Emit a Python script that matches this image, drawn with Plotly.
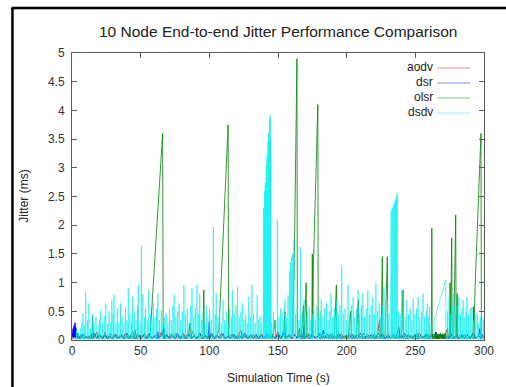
import plotly.graph_objects as go

title_text = "10 Node End-to-end Jitter Performance Comparison"
x_label = "Simulation Time (s)"
y_label = "Jitter (ms)"
series_names = ["aodv", "dsr", "olsr", "dsdv"]
series_colors = ["#ff0000", "#0000ff", "#008000", "#00eeee"]
series_widths = [1, 1, 0.8, 0.6]
legend_colors = ["#f08888", "#8888f8", "#80bb80", "#88f8f8"]
x_ticks = [0, 50, 100, 150, 200, 250, 300]
y_ticks = [0, 0.5, 1, 1.5, 2, 2.5, 3, 3.5, 4, 4.5, 5]

# (time s, jitter ms) samples
aodv_samples = [(0.5,0.02),(1.5,0.08),(2.5,0.03),(4,0.12),(5,0.02),(7,0.1),(8,0.03),(10,0.06),(12,0.02),(14,0.09),(16,0.03),(18,0.14),(19,0.02),(21,0.08),(23,0.03),(24,0.14),(25,0.02),(27,0.07),(29,0.03),(31,0.1),(33,0.02),(35,0.08),(37,0.03),(39,0.12),(41,0.02),(43,0.09),(45,0.03),(46,0.17),(47,0.02),(49,0.08),(51,0.03),(53,0.11),(55,0.02),(57,0.07),(59,0.03),(61,0.1),(63,0.02),(65,0.13),(67,0.03),(69,0.08),(71,0.02),(73,0.1),(75,0.03),(77,0.07),(79,0.02),(81,0.12),(83,0.03),(85,0.09),(86,0.29),(87,0.02),(89,0.08),(91,0.03),(93,0.11),(95,0.02),(97,0.07),(99,0.03),(101,0.1),(103,0.02),(105,0.08),(107,0.03),(109,0.12),(111,0.02),(113,0.07),(115,0.03),(117,0.1),(119,0.02),(121,0.09),(123,0.17),(124,0.03),(126,0.08),(128,0.02),(130,0.1),(132,0.03),(134,0.07),(136,0.02),(138,0.11),(140,0.03),(142,0.08),(144,0.02),(146,0.1),(148,0.03),(150,0.14),(152,0.02),(154,0.08),(156,0.03),(158,0.1),(160,0.02),(162,0.09),(164,0.03),(165.6,0.2),(166.5,0.02),(168,0.08),(170,0.03),(172,0.11),(174,0.02),(176,0.07),(178,0.03),(180,0.12),(182,0.02),(184,0.08),(186,0.03),(188,0.1),(190,0.02),(192,0.07),(194,0.03),(196,0.11),(198,0.02),(200,0.08),(202,0.03),(204,0.1),(206,0.02),(208,0.09),(210,0.03),(212,0.12),(214,0.02),(216,0.08),(218,0.03),(220,0.1),(222,0.02),(224,0.35),(224.5,0.03),(226,0.08),(228,0.02),(230,0.11),(232,0.03),(234,0.07),(236,0.02),(238,0.23),(239,0.03),(241,0.08),(243,0.02),(245,0.1),(247,0.03),(249,0.07),(251,0.02),(253,0.12),(255,0.03),(257,0.08),(259,0.02),(261,0.1),(263,0.03),(265,0.07),(267,0.02),(269,0.09),(271,0.03),(273.4,0.2),(274,0.02),(276,0.08),(278,0.03),(280,0.11),(282,0.02),(284,0.07),(286,0.03),(288,0.1),(290,0.02),(292,0.12),(294,0.03),(296,0.08),(298,0.02),(300,0.05)]

dsr_samples = [(0.3,0.05),(0.8,0.2),(1.1,0.03),(1.5,0.25),(1.8,0.04),(2.2,0.3),(2.5,0.05),(2.8,0.22),(3.2,0.03),(4.5,0.08),(6,0.02),(8,0.1),(10,0.03),(12,0.07),(14,0.02),(16,0.12),(18,0.03),(20,0.08),(22,0.02),(24,0.1),(26,0.03),(28,0.06),(30,0.02),(32,0.1),(34,0.03),(36,0.08),(38,0.02),(40,0.12),(42,0.03),(44,0.07),(46,0.02),(48,0.1),(50,0.03),(52,0.08),(54,0.02),(56,0.11),(58,0.03),(60,0.07),(62,0.02),(62.5,0.14),(63,0.03),(65,0.08),(67,0.2),(67.5,0.02),(69,0.1),(71,0.03),(73,0.07),(75,0.02),(77,0.11),(79,0.03),(81,0.08),(83,0.02),(85,0.1),(87,0.03),(89,0.07),(91,0.02),(93,0.12),(95,0.03),(97,0.08),(99,0.02),(100,0.31),(100.5,0.03),(102,0.1),(104,0.02),(106,0.08),(108,0.03),(110,0.11),(112,0.02),(114,0.07),(116,0.03),(118,0.1),(120,0.02),(122,0.08),(124,0.03),(126,0.12),(128,0.02),(130,0.07),(132,0.03),(134,0.1),(136,0.02),(138,0.08),(140,0.03),(142,0.11),(144,0.02),(146,0.07),(148,0.03),(150,0.1),(152,0.02),(154,0.14),(156,0.03),(158,0.08),(160,0.02),(162,0.1),(164,0.03),(166,0.07),(168,0.02),(169,0.24),(169.5,0.03),(171,0.08),(173,0.02),(175,0.1),(177,0.03),(179,0.07),(181,0.02),(183,0.17),(184,0.03),(186,0.1),(188,0.02),(190,0.08),(192,0.03),(194,0.11),(196,0.02),(198,0.07),(200,0.03),(202,0.1),(204,0.02),(206,0.08),(208,0.03),(210,0.12),(212,0.02),(214,0.07),(216,0.03),(218,0.1),(220,0.02),(222,0.08),(224,0.03),(226,0.11),(228,0.02),(230,0.07),(232,0.03),(234,0.1),(236,0.02),(238,0.08),(240,0.03),(242,0.12),(244,0.02),(246,0.07),(248,0.03),(250,0.1),(252,0.02),(254,0.08),(256,0.03),(258,0.11),(260,0.02),(262,0.07),(264,0.03),(265,0.14),(266,0.02),(268,0.1),(270,0.03),(272,0.08),(274,0.02),(276,0.11),(278,0.03),(280,0.07),(282,0.02),(284,0.1),(286,0.03),(288,0.08),(290,0.02),(292,0.12),(294,0.03),(296,0.07),(297,0.2),(297.5,0.02),(299,0.08),(300,0.03)]

olsr_samples = [(0.5,0.02),(2,0.05),(4,0.03),(6,0.08),(8,0.02),(10,0.06),(12,0.03),(14,0.1),(14.5,0.02),(15,0.43),(15.4,0.03),(16,0.08),(18,0.04),(20,0.1),(22,0.03),(24,0.07),(26,0.02),(28,0.12),(30,0.04),(32,0.08),(34,0.03),(36,0.1),(38,0.02),(40,0.06),(42,0.03),(44,0.15),(46,0.04),(48,0.08),(50,0.03),(52,0.1),(54,0.02),(55.5,0.07),(57,0.12),(66,3.6),(66.4,0.04),(68,0.08),(70,0.03),(72,0.1),(74,0.04),(76,0.12),(78,0.03),(80,0.07),(82,0.02),(84,0.1),(86,0.04),(88,0.15),(90,0.03),(92,0.08),(94,0.02),(95.5,0.1),(96,0.87),(96.4,0.03),(98,0.07),(100,0.02),(102,0.12),(104,0.04),(105.5,0.08),(107,0.17),(113.7,3.75),(114,0.04),(116,0.1),(118,0.03),(120,0.08),(122,0.02),(124,0.12),(126,0.04),(128,0.07),(130,0.03),(132,0.1),(134,0.02),(136,0.08),(138,0.03),(140,0.06),(142,0.02),(144,0.1),(146,0.03),(148,0.35),(148.4,0.02),(150,0.08),(152,0.03),(154,0.1),(155,0.5),(155.4,0.02),(157,0.07),(159,0.03),(160.5,0.12),(161.8,1.25),(163.8,4.9),(164.1,0.05),(165.5,0.1),(167,0.03),(168.5,0.6),(169,0.02),(170.5,1.0),(171,0.03),(172.5,0.1),(174.6,0.05),(175,1.5),(175.3,0.05),(175.8,1.3),(179,4.1),(179.3,0.05),(181,0.1),(183,0.03),(185,0.08),(187,0.02),(189,0.12),(191,0.03),(192.5,0.96),(193,0.02),(195,0.1),(197,0.03),(199,0.08),(201,0.02),(203,0.5),(203.4,0.03),(205,0.1),(207,0.02),(208.5,0.7),(209,0.03),(211,0.08),(213,0.02),(215,0.1),(217,0.03),(219,0.07),(221,0.02),(223,0.12),(225,0.03),(226,1.45),(226.4,0.02),(228,0.1),(229.6,1.45),(230,0.03),(232,0.08),(234,0.02),(236,0.1),(238,0.03),(240,0.07),(241,0.87),(241.4,0.02),(243,0.1),(245,0.03),(247,0.08),(249,0.02),(251,0.12),(253,0.03),(255,0.07),(257,0.02),(259,0.1),(260.5,0.03),(261.4,0.08),(261.8,0.1),(262,1.95),(262.3,0.02),(262.7,0.1),(263.1,0.02),(263.5,0.11),(263.9,0.02),(264.3,0.1),(264.7,0.02),(265.1,0.12),(265.5,0.02),(265.9,0.1),(266.3,0.02),(266.7,0.11),(267.1,0.02),(267.5,0.1),(267.9,0.02),(268.3,0.12),(268.7,0.02),(269.1,0.1),(269.5,0.02),(269.9,0.11),(270.3,0.02),(270.7,0.1),(271.1,0.02),(271.5,0.12),(271.9,0.02),(272.3,0.1),(272.7,0.02),(275,0.1),(275.3,1.0),(275.6,0.03),(276.5,1.78),(276.8,0.02),(278,0.1),(279.4,2.18),(279.7,0.03),(280.5,0.81),(280.8,0.02),(282,0.08),(284,0.03),(286,0.1),(288,0.02),(290,0.07),(292,0.03),(292.4,0.58),(292.7,0.02),(293.5,0.92),(297.8,3.6),(298.1,0.05),(299,0.1),(300,0.04)]

dsdv_samples = [
    (0.5,0.03),(3.25,0.05),(3.3,0.17),(3.35,0.01),(4.55,0.05),(4.6,0.12),(4.65,0.01),(5.95,0.05),(6.0,0.2),(6.05,0.01),(7.15,0.05),(7.2,0.3),(7.25,0.01),(7.95,0.05),(8.0,0.47),(8.05,0.01),(8.95,0.05),(9.0,0.25),(9.05,0.01),
    (9.95,0.05),(10.0,0.84),(10.05,0.01),(11.15,0.05),(11.2,0.35),(11.25,0.01),(12.25,0.05),(12.3,0.64),(12.35,0.01),(13.45,0.05),(13.5,0.2),(13.55,0.01),(14.75,0.05),(14.8,0.45),(14.85,0.01),(15.95,0.05),(16.0,0.3),(16.05,0.01),
    (17.45,0.05),(17.5,0.4),(17.55,0.01),(18.95,0.05),(19.0,0.25),(19.05,0.01),(19.95,0.05),(20.0,0.36),(20.05,0.01),(20.95,0.05),(21.0,0.52),(21.05,0.01),(22.25,0.05),(22.3,0.3),(22.35,0.01),(23.45,0.05),(23.5,0.42),(23.55,0.01),
    (24.55,0.05),(24.6,0.64),(24.65,0.01),(25.95,0.05),(26.0,0.28),(26.05,0.01),(26.95,0.05),(27.0,0.5),(27.05,0.01),(28.15,0.05),(28.2,0.3),(28.25,0.01),(28.95,0.05),(29.0,0.7),(29.05,0.01),(29.95,0.05),(30.0,0.45),(30.05,0.01),
    (30.55,0.05),(30.6,0.79),(30.65,0.01),(31.95,0.05),(32.0,0.3),(32.05,0.01),(32.95,0.05),(33.0,0.55),(33.05,0.01),(34.15,0.05),(34.2,0.3),(34.25,0.01),(35.25,0.05),(35.3,0.64),(35.35,0.01),(36.45,0.05),(36.5,0.4),(36.55,0.01),
    (37.65,0.05),(37.7,0.3),(37.75,0.01),(38.85,0.05),(38.9,0.58),(38.95,0.01),(39.95,0.05),(40.0,0.35),(40.05,0.01),(40.95,0.05),(41.0,0.9),(41.05,0.01),(42.15,0.05),(42.2,0.45),(42.25,0.01),(43.25,0.05),(43.3,0.3),(43.35,0.01),
    (44.15,0.05),(44.2,0.75),(44.25,0.01),(45.35,0.05),(45.4,0.5),(45.45,0.01),(46.55,0.05),(46.6,0.35),(46.65,0.01),(47.65,0.05),(47.7,0.6),(47.75,0.01),(48.25,0.05),(48.3,0.96),(48.35,0.01),(49.45,0.05),(49.5,0.3),(49.55,0.01),
    (50.45,0.05),(50.5,1.64),(50.55,0.01),(51.55,0.05),(51.6,0.8),(51.65,0.01),(52.75,0.05),(52.8,0.4),(52.85,0.01),(53.45,0.05),(53.5,0.58),(53.55,0.01),(54.75,0.05),(54.8,0.35),(54.85,0.01),(55.85,0.05),(55.9,0.87),(55.95,0.01),
    (57.15,0.05),(57.2,0.45),(57.25,0.01),(58.25,0.05),(58.3,0.3),(58.35,0.01),(59.15,0.05),(59.2,0.64),(59.25,0.01),(60.35,0.05),(60.4,0.4),(60.45,0.01),(61.55,0.05),(61.6,0.55),(61.65,0.01),(62.45,0.05),(62.5,0.81),(62.55,0.01),
    (63.65,0.05),(63.7,0.35),(63.75,0.01),(64.95,0.05),(65.0,0.52),(65.05,0.01),(66.15,0.05),(66.2,0.3),(66.25,0.01),(67.45,0.05),(67.5,0.4),(67.55,0.01),(68.45,0.05),(68.5,0.47),(68.55,0.01),(69.75,0.05),(69.8,0.3),(69.85,0.01),
    (70.95,0.05),(71.0,0.55),(71.05,0.01),(72.25,0.05),(72.3,0.35),(72.35,0.01),(73.45,0.05),(73.5,0.6),(73.55,0.01),(74.35,0.05),(74.4,0.79),(74.45,0.01),(75.55,0.05),(75.6,0.4),(75.65,0.01),(76.75,0.05),(76.8,0.5),(76.85,0.01),
    (77.95,0.05),(78.0,0.64),(78.05,0.01),(79.15,0.05),(79.2,0.35),(79.25,0.01),(80.35,0.05),(80.4,0.5),(80.45,0.01),(81.45,0.05),(81.5,0.96),(81.55,0.01),(82.65,0.05),(82.7,0.45),(82.75,0.01),(83.95,0.05),(84.0,0.55),(84.05,0.01),
    (85.15,0.05),(85.2,0.3),(85.25,0.01),(86.35,0.05),(86.4,0.6),(86.45,0.01),(87.35,0.05),(87.4,0.9),(87.45,0.01),(88.55,0.05),(88.6,0.4),(88.65,0.01),(89.75,0.05),(89.8,0.55),(89.85,0.01),(90.95,0.05),(91.0,0.96),(91.05,0.01),
    (92.15,0.05),(92.2,0.45),(92.25,0.01),(92.95,0.05),(93.0,0.81),(93.05,0.01),(94.15,0.05),(94.2,0.35),(94.25,0.01),(95.35,0.05),(95.4,0.5),(95.45,0.01),(96.55,0.05),(96.6,0.3),(96.65,0.01),(97.75,0.05),(97.8,0.6),(97.85,0.01),
    (98.95,0.05),(99.0,0.4),(99.05,0.01),(100.15,0.05),(100.2,0.55),(100.25,0.01),(101.35,0.05),(101.4,0.35),(101.45,0.01),(102.45,0.05),(102.5,0.7),(102.55,0.01),(102.95,0.05),(103.0,1.97),(103.05,0.01),(104.15,0.05),(104.2,0.45),(104.25,0.01),
    (104.95,0.05),(105.0,0.81),(105.05,0.01),(106.15,0.05),(106.2,0.4),(106.25,0.01),(107.35,0.05),(107.4,0.55),(107.45,0.01),(108.55,0.05),(108.6,0.3),(108.65,0.01),(109.95,0.05),(110.0,0.7),(110.05,0.01),(111.15,0.05),(111.2,0.35),(111.25,0.01),
    (112.35,0.05),(112.4,0.5),(112.45,0.01),(113.55,0.05),(113.6,0.3),(113.65,0.01),(114.75,0.05),(114.8,0.55),(114.85,0.01),(115.95,0.05),(116.0,0.4),(116.05,0.01),(116.95,0.05),(117.0,0.87),(117.05,0.01),(118.15,0.05),(118.2,0.45),(118.25,0.01),
    (119.35,0.05),(119.4,0.6),(119.45,0.01),(120.55,0.05),(120.6,0.93),(120.65,0.01),(121.75,0.05),(121.8,0.4),(121.85,0.01),(122.95,0.05),(123.0,0.5),(123.05,0.01),(123.95,0.05),(124.0,0.64),(124.05,0.01),(125.15,0.05),(125.2,0.35),(125.25,0.01),
    (126.35,0.05),(126.4,0.45),(126.45,0.01),(127.55,0.05),(127.6,0.3),(127.65,0.01),(128.65,0.05),(128.7,0.75),(128.75,0.01),(129.85,0.05),(129.9,0.4),(129.95,0.01),(130.95,0.05),(131.0,0.96),(131.05,0.01),(132.15,0.05),(132.2,0.45),(132.25,0.01),
    (133.35,0.05),(133.4,0.3),(133.45,0.01),(134.75,0.05),(134.8,0.78),(134.85,0.01),(135.95,0.05),(136.0,0.35),(136.05,0.01),(136.95,0.05),(137.0,0.41),(137.05,0.01),(138.15,0.05),(138.2,0.3),(138.25,0.01),
    (139.25,0.03),(139.3,1.9),(139.4,0.02),(139.5,2.3),(139.6,0.02),(139.7,2.0),(139.8,0.02),(139.9,2.45),(140.0,0.02),(140.1,2.2),(140.2,0.02),(140.3,2.6),(140.4,0.02),(140.5,2.4),(140.6,0.02),(140.7,2.75),(140.8,0.02),(140.9,2.6),(141.0,0.02),(141.1,2.9),(141.2,0.02),(141.3,2.75),(141.4,0.02),(141.5,3.05),(141.6,0.02),(141.7,2.9),(141.8,0.02),(141.9,3.2),(142.0,0.02),(142.1,3.1),(142.2,0.02),(142.3,3.35),(142.4,0.02),(142.5,3.2),(142.6,0.02),(142.7,3.45),(142.8,0.02),(142.9,3.4),(143.0,0.02),(143.1,3.6),(143.2,0.02),(143.3,3.5),(143.4,0.02),(143.5,3.7),(143.6,0.02),(143.7,3.65),(143.8,0.02),(143.9,3.85),(144.0,0.02),(144.1,3.8),(144.2,0.02),(144.3,3.92),(144.4,0.02),(144.5,3.75),(144.6,0.02),(144.7,3.5),(144.8,0.02),(144.9,3.3),(145.0,0.02),
    (145.45,0.05),(145.5,0.3),(145.55,0.01),(146.65,0.05),(146.7,0.5),(146.75,0.01),(147.95,0.05),(148.0,0.35),(148.05,0.01),(149.45,0.05),(149.5,2.1),(149.55,0.01),(150.65,0.05),(150.7,0.4),(150.75,0.01),(151.85,0.05),(151.9,0.55),(151.95,0.01),
    (152.95,0.05),(153.0,0.47),(153.05,0.01),(154.15,0.05),(154.2,0.3),(154.25,0.01),(154.95,0.05),(155.0,0.7),(155.05,0.01),(156.15,0.05),(156.2,0.4),(156.25,0.01),(157.25,0.05),(157.3,0.78),(157.35,0.01),
    (158.15,0.04),(158.2,1.0),(158.4,0.05),(158.6,1.2),(158.8,0.04),(159.0,1.35),(159.2,0.05),(159.4,1.1),(159.6,0.03),(159.8,1.45),(160.0,0.05),(160.2,1.3),(160.4,0.04),(160.6,1.5),(160.8,0.05),(161.0,1.4),(161.2,0.04),(161.6,1.74),(161.7,0.02),
    (162.65,0.05),(162.7,0.45),(162.75,0.01),(163.95,0.05),(164.0,0.55),(164.05,0.01),(165.15,0.05),(165.2,0.35),(165.25,0.01),(166.25,0.05),(166.3,1.62),(166.35,0.01),(167.45,0.05),(167.5,0.45),(167.55,0.01),(168.95,0.05),(169.0,0.7),(169.05,0.01),
    (170.15,0.05),(170.2,0.4),(170.25,0.01),(171.35,0.05),(171.4,0.5),(171.45,0.01),(172.65,0.05),(172.7,0.58),(172.75,0.01),(173.85,0.05),(173.9,0.35),(173.95,0.01),(175.05,0.05),(175.1,0.45),(175.15,0.01),(175.95,0.05),(176.0,0.52),(176.05,0.01),
    (177.15,0.05),(177.2,0.35),(177.25,0.01),(178.35,0.05),(178.4,0.6),(178.45,0.01),(179.55,0.05),(179.6,0.4),(179.65,0.01),(180.75,0.05),(180.8,0.5),(180.85,0.01),(181.45,0.05),(181.5,0.7),(181.55,0.01),(182.65,0.05),(182.7,0.4),(182.75,0.01),
    (183.85,0.05),(183.9,0.55),(183.95,0.01),(185.25,0.05),(185.3,0.64),(185.35,0.01),(186.45,0.05),(186.5,0.35),(186.55,0.01),(187.65,0.05),(187.7,0.5),(187.75,0.01),(188.55,0.05),(188.6,0.81),(188.65,0.01),(189.75,0.05),(189.8,0.4),(189.85,0.01),
    (190.95,0.05),(191.0,0.55),(191.05,0.01),(192.15,0.05),(192.2,0.35),(192.25,0.01),(192.75,0.05),(192.8,0.7),(192.85,0.01),(193.95,0.05),(194.0,0.45),(194.05,0.01),(195.15,0.05),(195.2,0.6),(195.25,0.01),(196.35,0.05),(196.4,1.3),(196.45,0.01),
    (197.55,0.05),(197.6,0.45),(197.65,0.01),(198.75,0.05),(198.8,0.55),(198.85,0.01),(199.95,0.05),(200.0,0.35),(200.05,0.01),(200.95,0.05),(201.0,0.96),(201.05,0.01),(202.15,0.05),(202.2,0.45),(202.25,0.01),(203.35,0.05),(203.4,0.6),(203.45,0.01),
    (204.65,0.05),(204.7,0.75),(204.75,0.01),(205.85,0.05),(205.9,0.4),(205.95,0.01),(207.05,0.05),(207.1,0.55),(207.15,0.01),(208.25,0.05),(208.3,0.87),(208.35,0.01),(209.45,0.05),(209.5,0.45),(209.55,0.01),(210.65,0.05),(210.7,0.6),(210.75,0.01),
    (211.75,0.05),(211.8,0.81),(211.85,0.01),(212.95,0.05),(213.0,0.4),(213.05,0.01),(214.15,0.05),(214.2,0.55),(214.25,0.01),(215.35,0.05),(215.4,0.87),(215.45,0.01),(216.55,0.05),(216.6,0.45),(216.65,0.01),(217.75,0.05),(217.8,0.6),(217.85,0.01),
    (218.95,0.05),(219.0,0.75),(219.05,0.01),(220.15,0.05),(220.2,0.45),(220.25,0.01),(221.25,0.05),(221.3,0.99),(221.35,0.01),(222.45,0.05),(222.5,0.5),(222.55,0.01),(223.65,0.05),(223.7,0.65),(223.75,0.01),(224.85,0.05),(224.9,0.4),(224.95,0.01),
    (226.05,0.05),(226.1,0.6),(226.15,0.01),(227.15,0.05),(227.2,0.93),(227.25,0.01),(228.35,0.05),(228.4,0.5),(228.45,0.01),(229.55,0.05),(229.6,0.7),(229.65,0.01),(230.75,0.05),(230.8,0.45),(230.85,0.01),(231.75,0.05),(231.8,0.8),(231.9,0.02),
    (232.0,2.15),(232.2,0.02),(232.4,2.25),(232.6,0.02),(232.8,2.2),(233.0,0.02),(233.2,2.3),(233.4,0.02),(233.6,2.25),(233.8,0.02),(234.0,2.35),(234.2,0.02),(234.4,2.3),(234.6,0.02),(234.8,2.4),(235.0,0.02),(235.2,2.38),(235.4,0.02),(235.6,2.45),(235.8,0.02),(236.0,2.42),(236.2,0.02),(236.4,2.5),(236.55,0.02),(236.7,2.56),(236.8,0.02),
    (237.75,0.05),(237.8,0.5),(237.85,0.01),(238.95,0.05),(239.0,0.45),(239.05,0.01),(240.15,0.05),(240.2,0.87),(240.25,0.01),(241.35,0.05),(241.4,0.5),(241.45,0.01),(242.55,0.05),(242.6,0.4),(242.65,0.01),(243.75,0.05),(243.8,0.7),(243.85,0.01),
    (244.95,0.05),(245.0,0.45),(245.05,0.01),(246.15,0.05),(246.2,0.55),(246.25,0.01),(247.35,0.05),(247.4,0.35),(247.45,0.01),(248.45,0.05),(248.5,0.72),(248.55,0.01),(249.65,0.05),(249.7,0.45),(249.75,0.01),(250.85,0.05),(250.9,0.55),(250.95,0.01),
    (251.95,0.05),(252.0,0.75),(252.05,0.01),(253.15,0.05),(253.2,0.4),(253.25,0.01),(254.35,0.05),(254.4,0.5),(254.45,0.01),(255.55,0.05),(255.6,0.81),(255.65,0.01),(256.75,0.05),(256.8,0.4),(256.85,0.01),(257.95,0.05),(258.0,0.5),(258.05,0.01),
    (258.65,0.05),(258.7,0.64),(258.75,0.01),(259.75,0.05),(259.8,0.4),(259.85,0.01),(260.35,0.05),(260.4,0.58),(260.45,0.01),(261.45,0.05),(261.5,0.3),(261.55,0.01),(263.55,0.03),(263.7,0.35),
    (272.2,1.05),(272.25,0.01),(273.25,0.05),(273.3,0.5),(273.35,0.01),(274.55,0.05),(274.6,0.75),(274.65,0.01),(275.75,0.05),(275.8,0.45),(275.85,0.01),(276.95,0.05),(277.0,0.6),(277.05,0.01),(277.95,0.05),(278.0,0.81),(278.05,0.01),
    (279.15,0.05),(279.2,0.45),(279.25,0.01),(280.35,0.05),(280.4,0.6),(280.45,0.01),(281.65,0.05),(281.7,0.75),(281.75,0.01),(282.85,0.05),(282.9,0.45),(282.95,0.01),(283.95,0.05),(284.0,0.55),(284.05,0.01),(284.75,0.05),(284.8,0.7),(284.85,0.01),
    (285.95,0.05),(286.0,0.4),(286.05,0.01),(286.95,0.05),(287.0,0.5),(287.05,0.01),(287.55,0.05),(287.6,0.75),(287.65,0.01),(288.75,0.05),(288.8,0.45),(288.85,0.01),(289.95,0.05),(290.0,0.55),(290.05,0.01),(291.15,0.05),(291.2,0.58),(291.25,0.01),
    (292.35,0.05),(292.4,0.35),(292.45,0.01),(293.55,0.05),(293.6,0.45),(293.65,0.01),(294.95,0.05),(295.0,0.47),(295.05,0.01),(296.15,0.05),(296.2,0.3),(296.25,0.01),(297.35,0.05),(297.4,0.4),(297.45,0.01),(298.25,0.05),(298.3,0.52),(298.35,0.01),
    (299.45,0.05),(299.5,0.35),(299.55,0.01),(300.0,0.03)]

all_samples = [aodv_samples, dsr_samples, olsr_samples, dsdv_samples]

# layout geometry (pixels of the 506x387 canvas)
W, H = 506, 387
PL, PR, PT, PB = 72, 494, 53, 340


def fx(px):
    return (px - PL) / (PR - PL)


def fy(py):
    return (PB - py) / (PB - PT)


FONT = "Liberation Sans, Arial, sans-serif"
AXC = "#5a5a5a"

fig = go.Figure()
for name, color, width, samples in zip(series_names, series_colors, series_widths, all_samples):
    fig.add_trace(go.Scatter(
        x=[s[0] for s in samples],
        y=[s[1] for s in samples],
        mode="lines",
        name=name,
        line=dict(color=color, width=width),
        showlegend=False,
    ))

axis_common = dict(
    showline=True, linecolor=AXC, linewidth=1, mirror="ticks",
    ticks="inside", ticklen=5, tickcolor=AXC, tickwidth=1,
    showgrid=False, zeroline=False,
    tickfont=dict(family=FONT, size=12, color="#333333"),
)

fig.update_xaxes(range=[0, 300], tickvals=x_ticks, ticktext=[str(v) for v in x_ticks], **axis_common)
fig.update_yaxes(range=[0, 5], tickvals=y_ticks, ticktext=[("%g" % v) for v in y_ticks],
                 ticklabelstandoff=4, **axis_common)

annotations = [
    dict(text=title_text, x=fx(283), y=fy(32), xref="paper", yref="paper", showarrow=False,
         xanchor="center", yanchor="middle", font=dict(family=FONT, size=15.5, color="#222222")),
    dict(text=x_label, x=0.5, y=fy(378), xref="paper", yref="paper", showarrow=False,
         xanchor="center", yanchor="middle", font=dict(family=FONT, size=12, color="#222222")),
    dict(text=y_label, x=fx(22), y=0.5, xref="paper", yref="paper", showarrow=False,
         textangle=-90, xanchor="center", yanchor="middle", font=dict(family=FONT, size=12, color="#222222")),
]
shapes = [
    # outer black frame (left and top edges)
    dict(type="line", xref="paper", yref="paper", x0=fx(11), x1=fx(11), y0=fy(8), y1=fy(400),
         line=dict(color="black", width=2.5)),
    dict(type="line", xref="paper", yref="paper", x0=fx(10), x1=fx(520), y0=fy(8), y1=fy(8),
         line=dict(color="black", width=2.5)),
]
legend_rows = [67, 82, 97, 112]
for name, color, py in zip(series_names, legend_colors, legend_rows):
    annotations.append(dict(text=name, x=fx(444), y=fy(py), xref="paper", yref="paper",
                            showarrow=False, xanchor="right", yanchor="middle",
                            font=dict(family=FONT, size=12, color="#222222")))
    shapes.append(dict(type="line", xref="paper", yref="paper", x0=fx(446), x1=fx(480),
                       y0=fy(py + 1), y1=fy(py + 1), line=dict(color=color, width=1)))

fig.update_layout(
    width=W, height=H,
    margin=dict(l=PL, r=W - PR, t=PT, b=H - PB),
    paper_bgcolor="white", plot_bgcolor="white",
    annotations=annotations,
    shapes=shapes,
    showlegend=False,
)

fig.write_html("out.html")
